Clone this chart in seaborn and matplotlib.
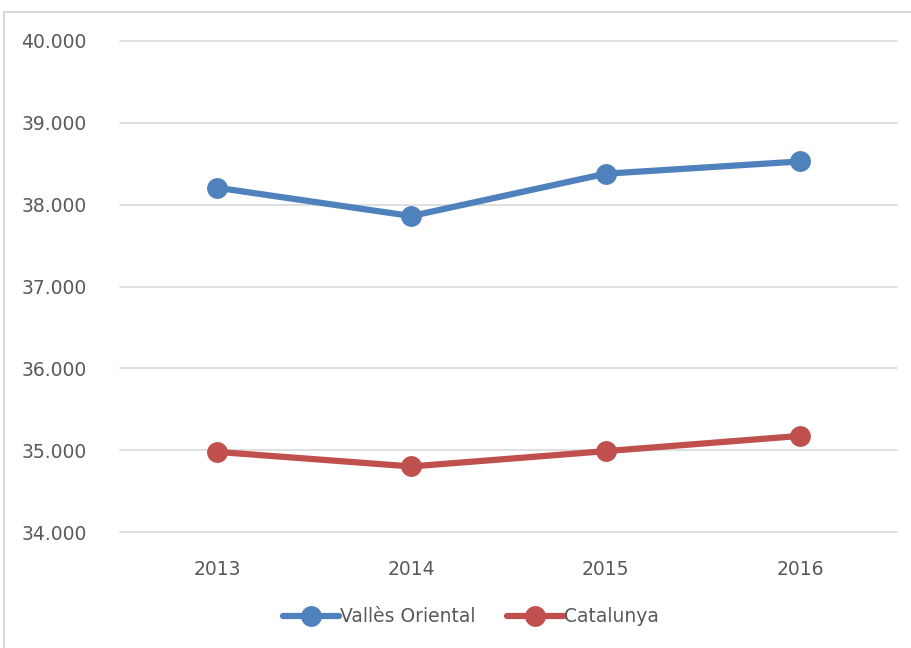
import matplotlib
matplotlib.use("Agg")
import matplotlib.pyplot as plt
import matplotlib.ticker as mticker
from matplotlib.patches import Rectangle
import seaborn as sns
import pandas as pd

years = [2013, 2014, 2015, 2016]
valles = [38207, 37861, 38378, 38528]
catalunya = [34979, 34801, 34988, 35174]
series_names = ["Vallès Oriental", "Catalunya"]
colors = ["#4F81BD", "#C0504D"]

df = pd.DataFrame({
    "year": years * 2,
    "value": valles + catalunya,
    "serie": [series_names[0]] * 4 + [series_names[1]] * 4,
})

sns.set_theme(style="white")
plt.rcParams["font.family"] = ["DejaVu Sans"]

fig = plt.figure(figsize=(9.12, 6.48), dpi=100)
ax = fig.add_axes([120 / 912, 1 - 532 / 648, 777 / 912, 491 / 648])

# outer chart border
fig.patches.append(Rectangle((4 / 912, -0.1), 1.2, 1 - 12 / 648 + 0.1,
                             transform=fig.transFigure, fill=False,
                             edgecolor="#D9D9D9", linewidth=1.5))

sns.lineplot(data=df, x="year", y="value", hue="serie", palette=colors,
             marker="o", markersize=15, markeredgewidth=0, linewidth=4.5,
             ax=ax, legend=False)

ax.set_xlim(2012.5, 2016.5)
ax.set_ylim(34000, 40000)
ax.set_xticks(years)
ax.set_xticklabels([str(y) for y in years])
ax.yaxis.set_major_locator(mticker.MultipleLocator(1000))
ax.yaxis.set_major_formatter(mticker.FuncFormatter(
    lambda v, p: f"{int(v):,}".replace(",", ".")))
ax.grid(axis="y", color="#D9D9D9", linewidth=1.2)
ax.grid(axis="x", visible=False)
for gl in ax.get_ygridlines():
    gl.set_clip_on(False)
ax.set_axisbelow(True)
for s in ax.spines.values():
    s.set_visible(False)
ax.tick_params(axis="both", length=0, labelsize=13.5, labelcolor="#595959")
ax.tick_params(axis="y", pad=24)
ax.tick_params(axis="x", pad=20)
ax.set_xlabel("")
ax.set_ylabel("")

handles = [plt.Line2D([], [], color=c, linewidth=4.5, marker="o",
                      markersize=15, markeredgewidth=0) for c in colors]
fig.legend(handles, series_names, loc="center", ncol=2,
           bbox_to_anchor=(471 / 912, 1 - 617 / 648), frameon=False,
           fontsize=13.5, labelcolor="#595959", handlelength=3.0,
           handletextpad=0.05, columnspacing=1.7)

fig.savefig("out.png", dpi=100)
